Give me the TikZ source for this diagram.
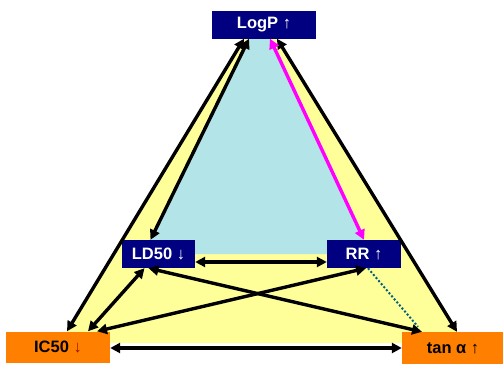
\documentclass[tikz,border=0pt]{standalone}
\usepackage{fontspec}
\setmainfont{Liberation Sans}
\usetikzlibrary{arrows.meta}

\definecolor{boxnavy}{RGB}{0,0,128}
\definecolor{boxorange}{RGB}{255,128,0}
\definecolor{fillyellow}{RGB}{255,255,153}
\definecolor{fillblue}{RGB}{178,228,232}
\definecolor{linkmagenta}{RGB}{255,0,255}
\definecolor{dotteal}{RGB}{0,96,128}
\definecolor{arrowred}{RGB}{150,20,0}

\begin{document}
\begin{tikzpicture}[x=1pt, y=-1pt, >={Triangle[length=10pt,width=10pt]},
    font=\fontsize{16.5}{19}\selectfont\bfseries,
    navybox/.style={fill=boxnavy, text=white, minimum height=28pt, inner sep=0pt},
    orangebox/.style={fill=boxorange, text=black, minimum height=31pt, inner sep=0pt},
    link/.style={<->, line width=3.4pt},
    dotlink/.style={dotteal, line width=2pt, dash pattern=on 2pt off 2pt}]

    \useasboundingbox (0,0) rectangle (503,364);

    % --- Outer triangle (yellow) ---
    \fill[fillyellow] (244,38) -- (277,38) -- (464,343) -- (60,343) -- cycle;

    % --- Inner triangle (blue) ---
    \fill[fillblue] (249,38) -- (270,38) -- (370,254) -- (143,254) -- cycle;

    % --- Boxes ---
    \node[navybox, minimum width=104pt] (logp) at (264,24.5) {LogP \textmd{↑}};
    \node[navybox, minimum width=73pt] (ld50) at (158.5,254) {LD50 \textmd{↓}};
    \node[navybox, minimum width=74pt] (rr) at (364,254) {RR \textmd{↑}};
    \node[orangebox, minimum width=104pt] (ic50) at (58,347) {IC50 \textcolor{arrowred}{↓}};
    \node[orangebox, minimum width=102pt, minimum height=32pt] (tana) at (453,348) {tan α \textmd{↑}};

    % --- Links ---
    % edges of the outer triangle
    \draw[link] ([xshift=-20pt]logp.south) -- ([xshift=9pt]ic50.north);
    \draw[link] ([xshift=13pt]logp.south) -- ([xshift=4pt]tana.north);
    \draw[link] ([yshift=-1pt]ic50.east) -- (tana.west);

    % edges of the inner triangle
    \draw[link] ([xshift=-15pt]logp.south) -- ([xshift=-8pt]ld50.north);
    \draw[link, linkmagenta] ([xshift=6pt]logp.south) -- (rr.north);
    \draw[link] ([yshift=-8pt]ld50.east) -- ([yshift=-8pt]rr.west);

    % cross links
    \draw[link] ([xshift=30pt]ic50.north) -- ([xshift=-14pt]ld50.south);
    \draw[link] ([xshift=39pt]ic50.north) -- ([xshift=2pt]rr.south);
    \draw[link] ([xshift=-10pt]ld50.south) -- ([xshift=-31pt]tana.north);
    \draw[dotlink] ([xshift=4pt]rr.south) -- ([xshift=-35pt,yshift=5pt]tana.north);

\end{tikzpicture}
\end{document}
